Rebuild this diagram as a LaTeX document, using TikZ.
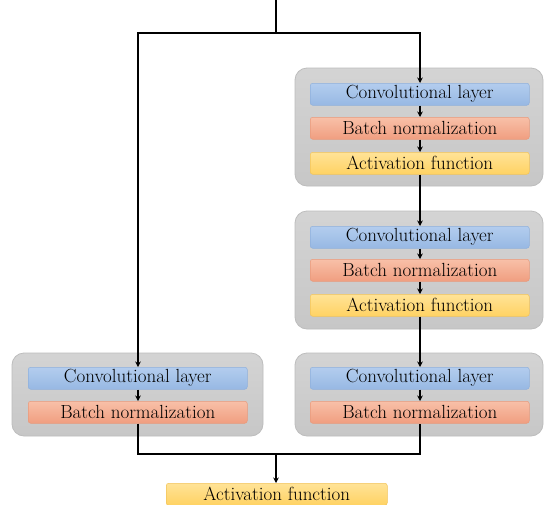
\documentclass[tikz,border=0pt]{standalone}
\usetikzlibrary{arrows.meta,positioning}
\begin{document}
\begin{tikzpicture}[x=1pt,y=-1pt,
  font=\fontsize{19}{21}\selectfont,
  group/.style={draw=black!26,line width=0.8pt,rounded corners=12pt,
    top color=black!17,bottom color=black!22},
  layer/.style={draw=#1,line width=0.5pt,rounded corners=2.5pt,
    minimum width=219pt,minimum height=22pt,inner sep=0pt,anchor=north west},
  conv/.style={layer=convc,top color=convt,bottom color=convb},
  bnorm/.style={layer=bnc,top color=bnt,bottom color=bnb},
  act/.style={layer=actc,top color=actt,bottom color=actb},
  wire/.style={line width=1.8pt,black},
  arr/.style={wire,-{Stealth[length=5.5pt,width=5.5pt]}}
]
\definecolor{convt}{HTML}{B3CDEE}
\definecolor{convb}{HTML}{97B8E3}
\definecolor{convc}{HTML}{8FB0DC}
\definecolor{bnt}{HTML}{F8C0A8}
\definecolor{bnb}{HTML}{F09E80}
\definecolor{bnc}{HTML}{E89A7C}
\definecolor{actt}{HTML}{FFE397}
\definecolor{actb}{HTML}{FFD263}
\definecolor{actc}{HTML}{F2C45A}

\path[use as bounding box,clip] (0,0) rectangle (544,504);
\fill[white] (0,0) rectangle (544,504);

% group frames
\path[group] (295,68) rectangle (543,186);
\path[group] (295,211) rectangle (543,329);
\path[group] (295,353) rectangle (543,436);
\path[group] (12,353) rectangle (263,436);

% right column, first block
\node[conv]  (c1) at (310,83)  {Convolutional layer};
\node[bnorm] (b1) at (310,117) {Batch normalization};
\node[act]   (a1) at (310,152) {Activation function};
% right column, second block
\node[conv]  (c2) at (310,226) {Convolutional layer};
\node[bnorm] (b2) at (310,259) {Batch normalization};
\node[act]   (a2) at (310,294) {Activation function};
% right column, third block
\node[conv]  (c3) at (310,367) {Convolutional layer};
\node[bnorm] (b3) at (310,401) {Batch normalization};
% shortcut branch
\node[conv]  (cs) at (28,367)  {Convolutional layer};
\node[bnorm] (bs) at (28,401)  {Batch normalization};
% output
\node[act,minimum width=221pt] (out) at (166,483) {Activation function};

% split points
\coordinate (in)  at (276,0);
\coordinate (top) at (276,33);
\coordinate (tl)  at (138,33);
\coordinate (tr)  at (420,33);
\coordinate (bl)  at (138,454);
\coordinate (br)  at (420,454);
\coordinate (bm)  at (276,454);

\draw[wire] (in) -- (top);
\draw[arr] (top) -- (tl) -- (cs.north -| tl);
\draw[arr] (top) -- (tr) -- (c1.north -| tr);
\draw[arr] (c1.south -| tr) -- (b1.north -| tr);
\draw[arr] (b1.south -| tr) -- (a1.north -| tr);
\draw[arr] (a1.south -| tr) -- (c2.north -| tr);
\draw[arr] (c2.south -| tr) -- (b2.north -| tr);
\draw[arr] (b2.south -| tr) -- (a2.north -| tr);
\draw[arr] (a2.south -| tr) -- (c3.north -| tr);
\draw[arr] (c3.south -| tr) -- (b3.north -| tr);
\draw[arr] (cs.south -| tl) -- (bs.north -| tl);
\draw[wire] (bs.south -| bl) -- (bl) -- (br) -- (b3.south -| br);
\draw[arr] (bm) -- (out.north -| bm);
\end{tikzpicture}
\end{document}
